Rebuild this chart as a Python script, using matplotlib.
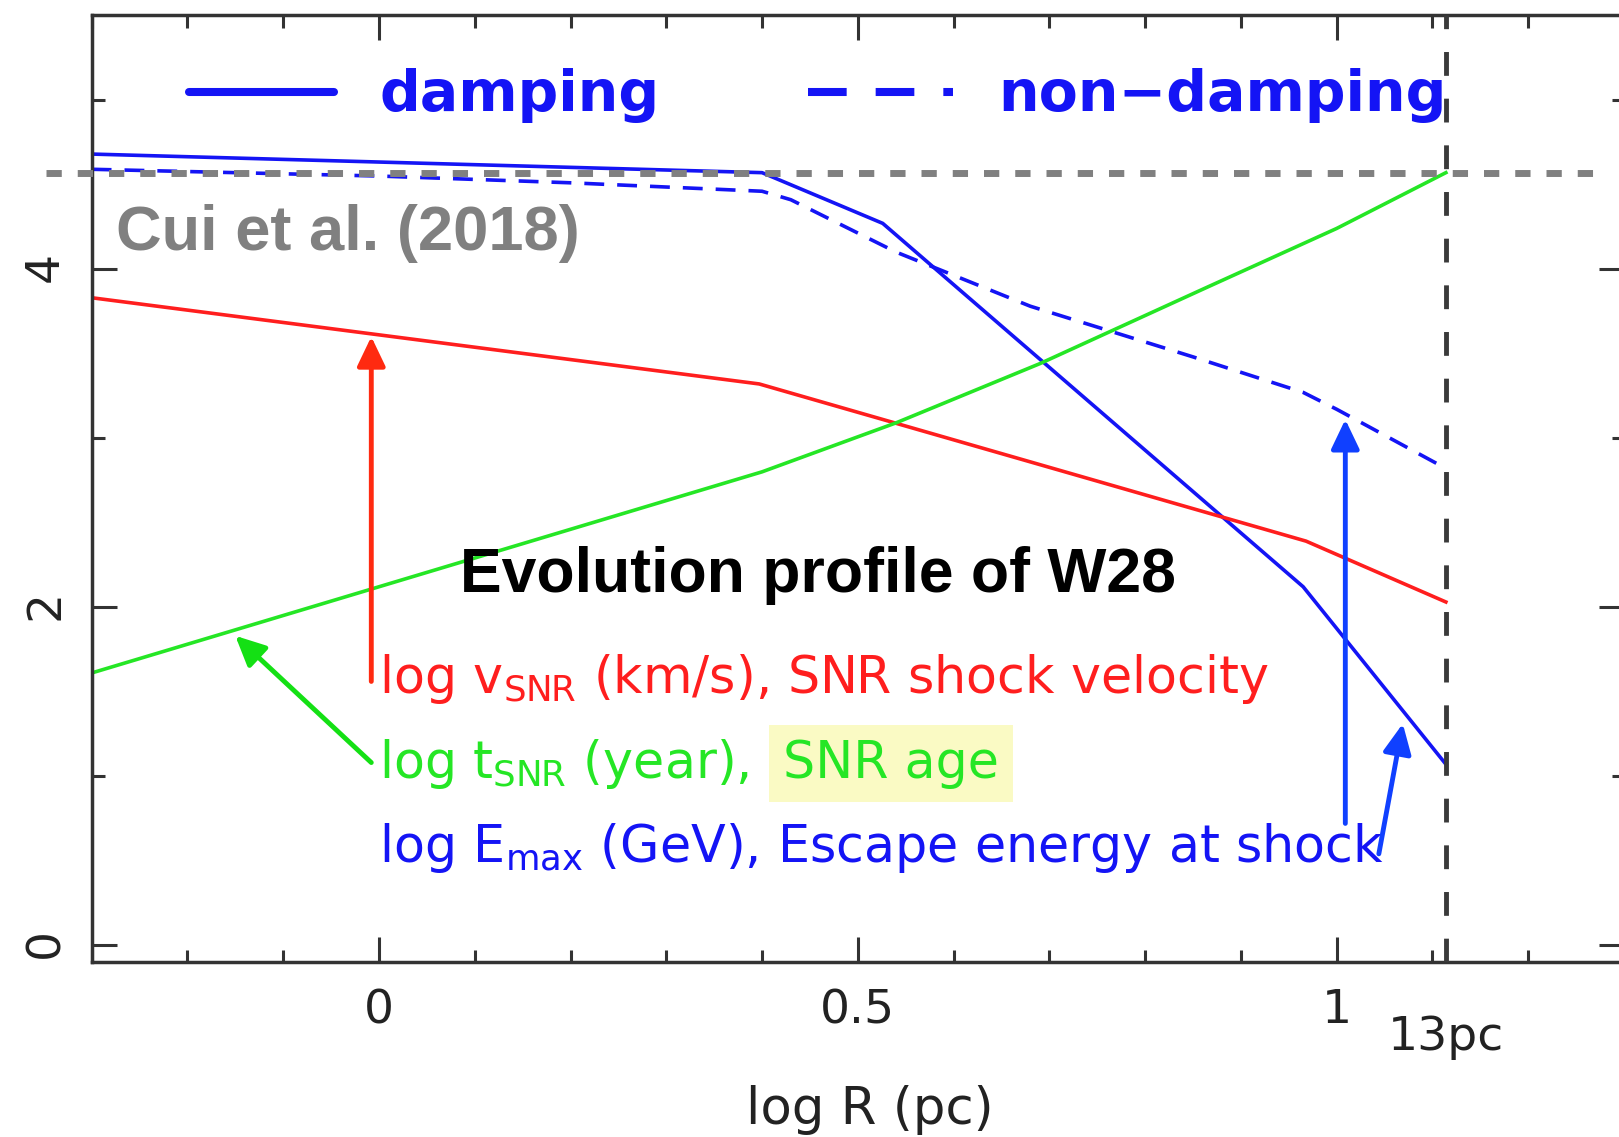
import numpy as np
import matplotlib.pyplot as plt
from matplotlib.ticker import MultipleLocator

# W28 evolution profile: log quantities against log R (pc)
logR_damp = [-0.30, 0.40, 0.526, 0.965, 1.114]
logE_damp = [4.68, 4.57, 4.27, 2.12, 1.07]

logR_nodamp = [-0.30, 0.00, 0.20, 0.40, 0.43, 0.54, 0.68, 0.85, 0.965, 1.00, 1.114]
logE_nodamp = [4.59, 4.55, 4.51, 4.46, 4.41, 4.10, 3.78, 3.48, 3.27, 3.17, 2.82]

logR_v = [-0.30, 0.397, 0.968, 1.114]
logv = [3.83, 3.32, 2.39, 2.03]

logR_t = [-0.30, 0.00, 0.40, 0.54, 0.69, 0.86, 1.00, 1.114]
logt = [1.61, 2.12, 2.80, 3.09, 3.44, 3.88, 4.24, 4.57]

R_snr = 13.0        # pc, present radius
logt_cui = 4.57     # age from Cui et al. (2018)

xticks = [0, 0.5, 1]
xticklabels = ['0', '0.5', '1']
yticks = [0, 2, 4]
yticklabels = ['0', '2', '4']

blue = '#1414f5'
blue_arrow = '#1040ff'
red = '#ff1e1e'
green = '#25e625'
axcol = '#333333'

plt.rcParams['font.family'] = ['DejaVu Sans']

fig = plt.figure(figsize=(16.19, 11.37), dpi=100)
ax = fig.add_axes([0.0566, 0.1539, 0.9465, 0.8325])
ax.set_xlim(-0.3, 1.3)
ax.set_ylim(-0.1, 5.5)

# curves
l_damp, = ax.plot(logR_damp, logE_damp, color=blue, lw=2.6, label='damping')
l_nodamp, = ax.plot(logR_nodamp, logE_nodamp, color=blue, lw=2.6,
                    ls=(0, (5.5, 3.6)), label='non\u2212damping')
ax.plot(logR_v, logv, color=red, lw=2.6)
ax.plot(logR_t, logt, color=green, lw=2.6)

# reference lines
ax.axvline(np.log10(R_snr), color='#3a3a3a', lw=3.5, ls=(0, (4.9, 4.7)), zorder=4)
ax.axhline(logt_cui, xmin=-0.03, xmax=0.982, color='#808080', lw=5,
           ls=(0, (2.2, 2.3)), dash_capstyle='butt', clip_on=False, zorder=5)

# axes styling
for s in ax.spines.values():
    s.set_linewidth(2.5)
    s.set_color(axcol)
ax.set_xticks(xticks, xticklabels)
ax.set_yticks(yticks, yticklabels)
ax.xaxis.set_minor_locator(MultipleLocator(0.1))
ax.yaxis.set_minor_locator(MultipleLocator(1))
ax.tick_params(which='both', direction='in', top=True, right=True,
               width=2.2, color=axcol, labelcolor='#222222', labelsize=34)
ax.tick_params(which='major', length=18)
ax.tick_params(which='minor', length=9)
ax.tick_params(axis='x', pad=19)
ax.tick_params(axis='y', pad=17, labelrotation=90)

ax.set_xlabel('log R (pc)', fontsize=37, labelpad=37, color='#222222')
ax.xaxis.label.set_x(0.508)
ax.annotate(f'{R_snr:.0f}pc', xy=(np.log10(R_snr), 0.0765),
            xycoords=('data', 'figure fraction'), ha='center', va='baseline',
            fontsize=34, color='#222222', annotation_clip=False)

# legend
leg = ax.legend(handles=[l_damp, l_nodamp], loc='upper left',
                bbox_to_anchor=(0.0635, 0.944), ncol=2, frameon=False,
                borderpad=0, borderaxespad=0, handlelength=2.55,
                handletextpad=0.8, columnspacing=2.6,
                prop={'weight': 'bold', 'size': 41})
for h in leg.get_lines():
    h.set_linewidth(5.8)
    h.set_solid_capstyle('round')
leg.get_lines()[1].set_linestyle((0, (4.8, 3.6)))
for t in leg.get_texts():
    t.set_color(blue)

# annotations
ax.text(-0.275, 4.11, 'Cui et al. (2018)', fontsize=45.5, fontweight='bold',
        family='Liberation Sans', color='#808080', va='baseline')
ax.text(0.085, 2.09, 'Evolution profile of W28', fontsize=45, fontweight='bold',
        family='Liberation Sans', color='black', va='baseline')

lab_size = 36.5
ax.text(0.0, 1.49, r'log v$_\mathregular{SNR}$ (km/s), SNR shock velocity',
        fontsize=lab_size, color=red, va='baseline')
ax.text(0.0, 0.99, r'log t$_\mathregular{SNR}$ (year), ',
        fontsize=lab_size, color=green, va='baseline')
ax.text(0.422, 0.99, 'SNR age', fontsize=lab_size, color=green, va='baseline',
        bbox=dict(facecolor='#fafac4', edgecolor='none', pad=10))
ax.text(0.0, 0.49, r'log E$_\mathregular{max}$ (GeV), Escape energy at shock',
        fontsize=lab_size, color=blue, va='baseline')

arrow_kw = dict(arrowstyle='-|>,head_length=0.9,head_width=0.43',
                mutation_scale=20, lw=3.5, shrinkA=0, shrinkB=0)
ax.annotate('', xy=(-0.008, 3.60), xytext=(-0.008, 1.56),
            arrowprops=dict(color='#ff2a10', **arrow_kw))
ax.annotate('', xy=(-0.150, 1.83), xytext=(-0.008, 1.08),
            arrowprops=dict(color='#14e014', **arrow_kw))
ax.annotate('', xy=(1.009, 3.11), xytext=(1.009, 0.72),
            arrowprops=dict(color=blue_arrow, **arrow_kw))
ax.annotate('', xy=(1.069, 1.31), xytext=(1.044, 0.54),
            arrowprops=dict(color=blue_arrow, **arrow_kw))

fig.savefig('out.png', dpi=100)
